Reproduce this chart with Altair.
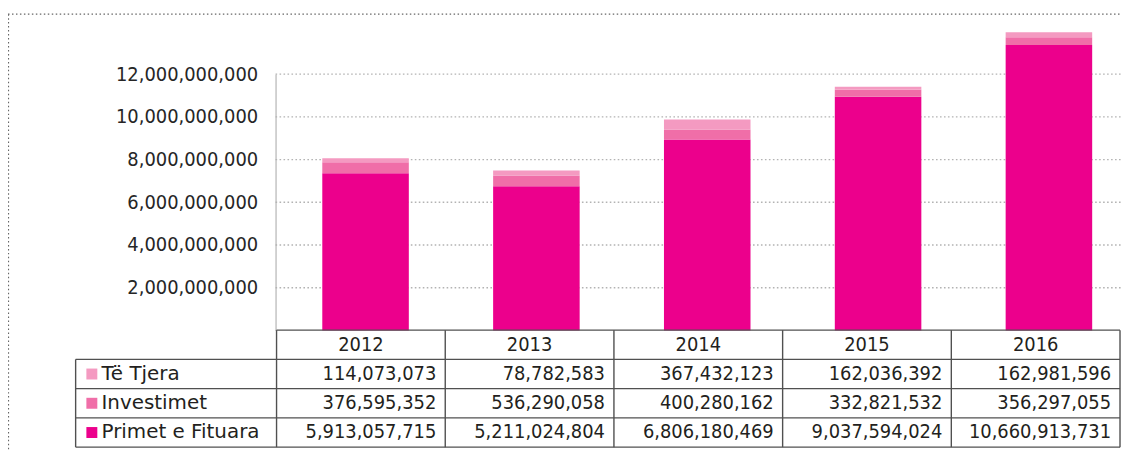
import altair as alt
import pandas as pd

# ---------------- data ----------------
years = ["2012", "2013", "2014", "2015", "2016"]
series = ["Të Tjera", "Investimet", "Primet e Fituara"]
series_colors = ["#F49AC1", "#F06EA8", "#EC008C"]

# figures printed in the data table
tjera_table = [114073073, 78782583, 367432123, 162036392, 162981596]
invest_table = [376595352, 536290058, 400280162, 332821532, 356297055]
primet_table = [5913057715, 5211024804, 6806180469, 9037594024, 10660913731]

# bar segment heights as drawn
primet_bar = [7.36e9, 6.75e9, 8.94e9, 10.94e9, 13.36e9]
invest_bar = [0.51e9, 0.51e9, 0.47e9, 0.33e9, 0.37e9]
tjera_bar = [0.19e9, 0.23e9, 0.47e9, 0.14e9, 0.23e9]

y_ticks = [2e9, 4e9, 6e9, 8e9, 10e9, 12e9]

# ---------------- tables for the library ----------------
bar_rows = []
for i, y in enumerate(years):
    bar_rows.append({"year": y, "series": "Primet e Fituara", "value": primet_bar[i], "ord": 0})
    bar_rows.append({"year": y, "series": "Investimet", "value": invest_bar[i], "ord": 1})
    bar_rows.append({"year": y, "series": "Të Tjera", "value": tjera_bar[i], "ord": 2})
bars_df = pd.DataFrame(bar_rows)

cell_rows = []
for name, vals in zip(series, [tjera_table, invest_table, primet_table]):
    for y, v in zip(years, vals):
        cell_rows.append({"year": y, "row": name, "value": v})
cells_df = pd.DataFrame(cell_rows)

years_df = pd.DataFrame({"year": years})
rows_df = pd.DataFrame({"row": series})
grid_df = pd.DataFrame({"v": y_ticks})
one_df = pd.DataFrame({"k": [0]})

# ---------------- layout ----------------
W, H = 1120, 445
FONT = "DejaVu Sans Condensed"
LABEL_FONT = "DejaVu Sans"
TXT = "#231f20"
LINE = "#505050"
TAB_X0, TAB_X1 = 270, 1118
STEP = (TAB_X1 - TAB_X0) / len(years)

y_scale = alt.Scale(domain=[0, 12e9], range=[323, 65.3], nice=False, zero=True)
bar_x = alt.Scale(domain=years, range=[273.6, 1132.4], paddingInner=0, paddingOuter=0)
tab_x = alt.Scale(domain=years, range=[TAB_X0, TAB_X1], paddingInner=0, paddingOuter=0)
tab_y = alt.Scale(domain=["header"] + series, range=[322.7, 440.3], paddingInner=0, paddingOuter=0)
color_scale = alt.Scale(domain=series, range=series_colors)

frame_top = alt.Chart(one_df).mark_rule(color="#666666", strokeDash=[1.5, 2.5], strokeWidth=1.2).encode(
    x=alt.value(0), x2=alt.value(W), y=alt.value(5))
frame_left = alt.Chart(one_df).mark_rule(color="#666666", strokeDash=[1.5, 2.5], strokeWidth=1.2).encode(
    x=alt.value(0.5), y=alt.value(5), y2=alt.value(H))

grid = alt.Chart(grid_df).mark_rule(color="#b3b3b3", strokeDash=[1.6, 2.4], strokeWidth=1.4).encode(
    y=alt.Y("v:Q", scale=y_scale, axis=None), x=alt.value(269), x2=alt.value(W))

bars = alt.Chart(bars_df).mark_bar(size=87).encode(
    x=alt.X("year:N", scale=bar_x, axis=None),
    y=alt.Y("value:Q", scale=y_scale, stack="zero",
            axis=alt.Axis(orient="left", offset=-269, values=y_ticks, format=",.0f", title=None,
                          ticks=False, grid=False, labelPadding=18, labelFont=FONT, labelFontSize=20,
                          labelColor="#262626", domainColor="#c4c4c4", domainWidth=1.5)),
    color=alt.Color("series:N", scale=color_scale, legend=None),
    order=alt.Order("ord:Q", sort="ascending"),
)

# table borders
vlines = alt.Chart(years_df).mark_rule(color=LINE, strokeWidth=1.4).encode(
    x=alt.X("year:N", scale=tab_x, axis=None, bandPosition=0), y=alt.value(322.7), y2=alt.value(440.3))
vline_end = alt.Chart(pd.DataFrame({"year": [years[-1]]})).mark_rule(color=LINE, strokeWidth=1.4).encode(
    x=alt.X("year:N", scale=tab_x, axis=None, bandPosition=1), y=alt.value(322.7), y2=alt.value(440.3))
vline_label = alt.Chart(one_df).mark_rule(color=LINE, strokeWidth=1.4).encode(
    x=alt.value(68), y=alt.value(352.1), y2=alt.value(440.3))

hline_header = alt.Chart(pd.DataFrame({"row": ["header"]})).mark_rule(color=LINE, strokeWidth=1.4).encode(
    y=alt.Y("row:N", scale=tab_y, axis=None, bandPosition=0), x=alt.value(TAB_X0), x2=alt.value(TAB_X1))
hlines_rows = alt.Chart(rows_df).mark_rule(color=LINE, strokeWidth=1.4).encode(
    y=alt.Y("row:N", scale=tab_y, axis=None, bandPosition=0), x=alt.value(68), x2=alt.value(TAB_X1))
hline_bottom = alt.Chart(pd.DataFrame({"row": [series[-1]]})).mark_rule(color=LINE, strokeWidth=1.4).encode(
    y=alt.Y("row:N", scale=tab_y, axis=None, bandPosition=1), x=alt.value(68), x2=alt.value(TAB_X1))

header_text = alt.Chart(years_df.assign(row="header")).mark_text(
    font=FONT, fontSize=20, color=TXT, align="center", baseline="middle").encode(
    x=alt.X("year:N", scale=tab_x, axis=None),
    y=alt.Y("row:N", scale=tab_y, axis=None),
    text="year:N")

cell_text = alt.Chart(cells_df).mark_text(
    font=FONT, fontSize=20, color=TXT, align="right", baseline="middle", dx=STEP / 2 - 9).encode(
    x=alt.X("year:N", scale=tab_x, axis=None),
    y=alt.Y("row:N", scale=tab_y, axis=None),
    text=alt.Text("value:Q", format=","))

swatches = alt.Chart(rows_df).mark_square(size=121, opacity=1).encode(
    x=alt.value(84.3),
    y=alt.Y("row:N", scale=tab_y, axis=None),
    color=alt.Color("row:N", scale=color_scale, legend=None))

row_labels = alt.Chart(rows_df).mark_text(
    font=LABEL_FONT, fontSize=20, color=TXT, align="left", baseline="middle").encode(
    x=alt.value(94),
    y=alt.Y("row:N", scale=tab_y, axis=None),
    text="row:N")

chart = alt.layer(
    frame_top, frame_left, grid, bars,
    vlines, vline_end, vline_label, hline_header, hlines_rows, hline_bottom,
    header_text, cell_text, swatches, row_labels,
).resolve_scale(x="independent", y="independent").properties(
    width=W, height=H, padding=0, autosize=alt.AutoSizeParams(type="none"),
    background="white",
).configure_view(strokeWidth=0)

chart.save("out.html", embed_options={"renderer": "svg", "actions": False})
